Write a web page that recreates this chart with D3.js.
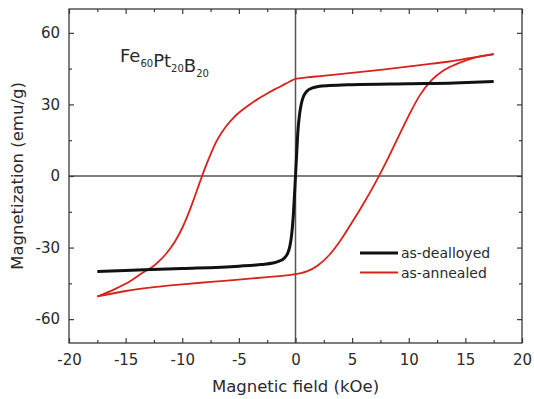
<!DOCTYPE html>
<html>
<head>
<meta charset="utf-8">
<script src="https://cdn.jsdelivr.net/npm/d3@7"></script>
<style>
  html, body { margin: 0; padding: 0; background: #fff; }
  svg { display: block; font-family: "DejaVu Sans", "Liberation Sans", Arial, sans-serif; }
</style>
</head>
<body>
<svg id="chart" width="534" height="399"></svg>
<script>
// Hysteresis loops of Fe60Pt20B20 (field in kOe, magnetization in emu/g)
const dealloyedField = [-17.5, -15, -10, -5, -3, -2, -1.5, -1, -0.7, -0.5, -0.35, -0.2, -0.1, 0, 0.1, 0.2, 0.35, 0.5, 0.7, 1, 1.5, 2, 3, 5, 10, 14, 17.5];
const dealloyedMag   = [-40, -39.6, -38.8, -37.8, -37.1, -36.5, -35.8, -34.5, -32.5, -29.5, -25, -17, -9, 0, 9, 18, 25.5, 30, 33.3, 35.5, 36.9, 37.5, 37.9, 38.3, 38.7, 39, 39.6];

// annealed sample: descending-field branch
const annealedDownField = [-17.5, -16, -14.5, -13.5, -12.5, -12, -11.5, -11, -10.5, -10, -9.5, -9, -8.5, -8, -7.5, -7, -6.5, -6, -5.5, -5, -4.5, -4, -3.5, -3, -2.5, -2, -1.5, -1, -0.5, 0, 1, 2, 3.5, 7.7, 11, 13.6, 15.5, 17.5];
const annealedDownMag   = [-50.5, -47.5, -43.8, -40.6, -37.6, -35.5, -33, -30, -26.3, -21.8, -16.3, -10, -3.3, 3.2, 9.1, 14.3, 18.3, 21.6, 24.3, 26.5, 28.4, 30.1, 31.7, 33.2, 34.6, 35.9, 37.1, 38.4, 39.6, 40.7, 41.3, 41.8, 42.5, 44.6, 46.5, 48, 49.5, 51];

// annealed sample: ascending-field branch
const annealedUpField = [-17.5, -15, -12.5, -10, -7.5, -5, -2.5, -1, 0, 0.5, 1, 2, 3, 4, 5, 6, 7, 8, 9, 10, 11, 12, 13, 14, 15, 16, 17.5];
const annealedUpMag   = [-50.5, -48.2, -46.6, -45.4, -44.4, -43.4, -42.4, -41.8, -41.1, -40.7, -40, -37.4, -33, -26.8, -19.4, -11.6, -3.3, 5.8, 15.6, 25.3, 34, 40.1, 44, 46.5, 48.4, 49.8, 51.2];

const xTicks = [-20, -15, -10, -5, 0, 5, 10, 15, 20];
const xMinorTicks = [-17.5, -12.5, -7.5, -2.5, 2.5, 7.5, 12.5, 17.5];
const yTicks = [-60, -30, 0, 30, 60];
const yMinorTicks = [-45, -15, 15, 45];

const seriesNames = ["as-dealloyed", "as-annealed"];

const W = 534, H = 399;
const margin = { top: 9, right: 12, bottom: 56, left: 69 };
const svg = d3.select("#chart");

const x = d3.scaleLinear().domain([-20, 20]).range([margin.left, W - margin.right]);
const y = d3.scaleLinear().domain([-70, 70]).range([H - margin.bottom, margin.top]);

const axisColor = "#3a3a3a";
const textColor = "#2a2a2a";
const red = "#d8221a";

// zero lines
svg.append("line")
  .attr("x1", x(-20)).attr("x2", x(20)).attr("y1", y(0)).attr("y2", y(0))
  .attr("stroke", "#555").attr("stroke-width", 1.5);
svg.append("line")
  .attr("x1", x(0)).attr("x2", x(0)).attr("y1", y(-70)).attr("y2", y(70))
  .attr("stroke", "#555").attr("stroke-width", 1.5);

// curves
const toPoints = (xs, ys) => xs.map((v, i) => [v, ys[i]]);
const line = d3.line().x(d => x(d[0])).y(d => y(d[1])).curve(d3.curveMonotoneX);

svg.append("path")
  .datum(toPoints(annealedDownField, annealedDownMag))
  .attr("d", line).attr("fill", "none")
  .attr("stroke", red).attr("stroke-width", 1.8);
svg.append("path")
  .datum(toPoints(annealedUpField, annealedUpMag))
  .attr("d", line).attr("fill", "none")
  .attr("stroke", red).attr("stroke-width", 1.8);
svg.append("path")
  .datum(toPoints(dealloyedField, dealloyedMag))
  .attr("d", line).attr("fill", "none")
  .attr("stroke", "#111").attr("stroke-width", 3);

// axes with inward ticks on all four sides
function styleAxis(g) {
  g.select(".domain").remove();
  g.selectAll(".tick line").attr("stroke", axisColor).attr("stroke-width", 1.2);
  g.selectAll(".tick text").attr("fill", textColor)
    .attr("font-family", "DejaVu Sans, Liberation Sans, Arial, sans-serif")
    .attr("font-size", 15);
}

const gx = svg.append("g").attr("transform", `translate(0,${y(-70)})`)
  .call(d3.axisBottom(x).tickValues(xTicks).tickSize(-5).tickPadding(11)
    .tickFormat(d => String(d)));
styleAxis(gx);

const gxMinor = svg.append("g").attr("transform", `translate(0,${y(-70)})`)
  .call(d3.axisBottom(x).tickValues(xMinorTicks).tickSize(-3).tickFormat(""));
styleAxis(gxMinor);

const gxTop = svg.append("g").attr("transform", `translate(0,${y(70)})`)
  .call(d3.axisTop(x).tickValues(xTicks).tickSize(-5).tickFormat(""));
styleAxis(gxTop);
const gxTopMinor = svg.append("g").attr("transform", `translate(0,${y(70)})`)
  .call(d3.axisTop(x).tickValues(xMinorTicks).tickSize(-3).tickFormat(""));
styleAxis(gxTopMinor);

const gy = svg.append("g").attr("transform", `translate(${x(-20)},0)`)
  .call(d3.axisLeft(y).tickValues(yTicks).tickSize(-5).tickPadding(9)
    .tickFormat(d => String(d)));
styleAxis(gy);
const gyMinor = svg.append("g").attr("transform", `translate(${x(-20)},0)`)
  .call(d3.axisLeft(y).tickValues(yMinorTicks).tickSize(-3).tickFormat(""));
styleAxis(gyMinor);

const gyRight = svg.append("g").attr("transform", `translate(${x(20)},0)`)
  .call(d3.axisRight(y).tickValues(yTicks).tickSize(-5).tickFormat(""));
styleAxis(gyRight);
const gyRightMinor = svg.append("g").attr("transform", `translate(${x(20)},0)`)
  .call(d3.axisRight(y).tickValues(yMinorTicks).tickSize(-3).tickFormat(""));
styleAxis(gyRightMinor);

// frame
svg.append("rect")
  .attr("x", x(-20)).attr("y", y(70))
  .attr("width", x(20) - x(-20)).attr("height", y(-70) - y(70))
  .attr("fill", "none").attr("stroke", axisColor).attr("stroke-width", 1.3);

// axis titles
svg.append("text")
  .attr("x", (x(-20) + x(20)) / 2).attr("y", 392)
  .attr("text-anchor", "middle").attr("fill", textColor)
  .attr("font-size", 16.5)
  .text("Magnetic field (kOe)");

svg.append("text")
  .attr("transform", `translate(23,${(y(70) + y(-70)) / 2}) rotate(-90)`)
  .attr("text-anchor", "middle").attr("fill", textColor)
  .attr("font-size", 16.5)
  .text("Magnetization (emu/g)");

// composition label
const comp = svg.append("text")
  .attr("x", 120).attr("y", 62)
  .attr("fill", textColor).attr("font-size", 18);
[["Fe", "60"], ["Pt", "20"], ["B", "20"]].forEach(([el, n]) => {
  comp.append("tspan").attr("dy", 0).text(el);
  comp.append("tspan").attr("font-size", 10).attr("dy", 5).text(n);
  comp.append("tspan").attr("font-size", 18).attr("dy", -5).text("");
});

// legend
const legendColors = ["#111", red];
const legendWidths = [3, 1.8];
const legend = svg.append("g");
seriesNames.forEach((name, i) => {
  const ly = 253 + i * 19.5;
  legend.append("line")
    .attr("x1", 360).attr("x2", 398).attr("y1", ly).attr("y2", ly)
    .attr("stroke", legendColors[i]).attr("stroke-width", legendWidths[i]);
  legend.append("text")
    .attr("x", 401).attr("y", ly + 5)
    .attr("fill", textColor).attr("font-size", 14)
    .text(name);
});
</script>
</body>
</html>
